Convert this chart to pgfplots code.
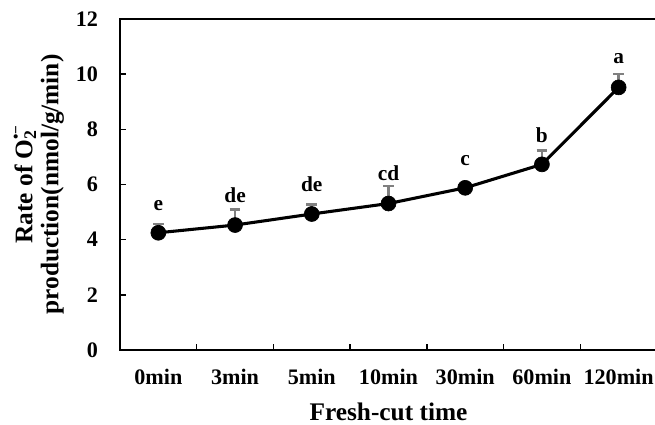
\documentclass[border=0pt]{standalone}
\usepackage{fontspec}
\setmainfont{Liberation Serif}
\usepackage{pgfplots}
\pgfplotsset{compat=1.18}
\usepackage{pgfplotstable}

% mean rate and upper error
\pgfplotstableread{
x  y     err
0  4.25  0.32
1  4.53  0.57
2  4.93  0.35
3  5.31  0.64
4  5.88  0.08
5  6.73  0.50
6  9.52  0.48
}\ratedata

% significance letters, placed at their baseline height
\pgfplotstableread{
x  y     lab
0  5.07  e
1  5.34  de
2  5.74  de
3  6.16  cd
4  6.70  c
5  7.51  b
6  10.39 a
}\letterdata

\definecolor{errgray}{RGB}{128,128,128}

\begin{document}
\begin{tikzpicture}
\begin{axis}[
  at={(0,0)}, anchor=south west,
  scale only axis,
  width=402.75pt, height=248.25pt,
  xmin=-0.5, xmax=6.5,
  ymin=0, ymax=12,
  ytick={0,2,...,12},
  xtick={0,...,6},
  xticklabels={0min,3min,5min,10min,30min,60min,120min},
  minor xtick={0.5,1.5,...,5.5},
  major x tick style={draw=none},
  tick align=inside,
  tick pos=left,
  major tick length=4.5pt,
  minor tick length=4.5pt,
  axis line style={line width=1.4pt},
  every tick/.style={black, line width=1pt},
  /pgf/number format/assume math mode=true,
  tick label style={font=\bfseries\fontsize{16.6}{19}\selectfont},
  xticklabel style={anchor=center, yshift=-20.5pt},
  yticklabel style={anchor=east, xshift=-13pt},
  xlabel={Fresh-cut time},
  ylabel={Rate of O\makebox[0pt][l]{\textsubscript{2}}\raisebox{0.45em}{\fontsize{11.5}{11.5}\selectfont•−}\\production(nmol/g/min)},
  label style={font=\bfseries\fontsize{19}{19.5}\selectfont},
  xlabel style={at={(axis description cs:0.5,-0.187)}, anchor=center},
  ylabel style={at={(axis description cs:-0.151,0.5)}, anchor=center, align=center},
  clip=false,
]
\addplot[
  black, line width=2.3pt,
  mark=*, mark size=5.6pt, mark options={fill=black, line width=0.5pt},
  error bars/.cd, y dir=plus, y explicit,
  error bar style={errgray, line width=2pt},
  error mark options={errgray, rotate=90, mark size=4pt, line width=2pt},
] table[x=x, y=y, y error=err] {\ratedata};

\addplot[
  draw=none, mark=none,
  point meta=explicit symbolic,
  nodes near coords,
  nodes near coords style={anchor=base, inner sep=0pt, font=\bfseries\fontsize{16}{17}\selectfont, black},
] table[x=x, y=y, meta=lab] {\letterdata};
\end{axis}
\pgfresetboundingbox
\path (-90pt,-55.5pt) rectangle (401.25pt,262.5pt);
\end{tikzpicture}
\end{document}
